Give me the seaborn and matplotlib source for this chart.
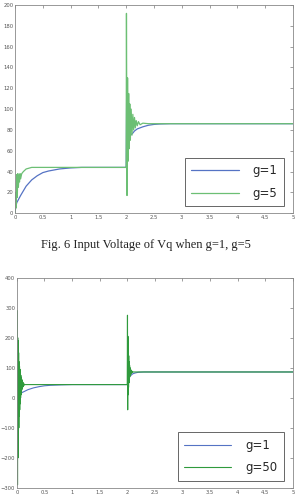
import numpy as np
import pandas as pd
import matplotlib
matplotlib.use("Agg")
import matplotlib.pyplot as plt
import seaborn as sns

# ---- top panel (g=1 vs g=5) ----
top_t_g1 = [0, 0.01, 0.03, 0.05, 0.1, 0.2, 0.3, 0.4, 0.5, 0.6, 0.8, 1.0, 1.2, 1.5, 1.99,
            2.0, 2.01, 2.02, 2.03, 2.04, 2.05, 2.06, 2.07, 2.08, 2.1, 2.12, 2.15, 2.2,
            2.3, 2.4, 2.5, 2.6, 2.8, 3.0, 5.0]
top_v_g1 = [0, 5, 10, 12, 17, 26, 32, 36, 39, 40.5, 42.5, 43.5, 44, 44, 44,
            44, 127, 60, 110, 70, 95, 72, 88, 75, 76, 77, 79, 81,
            83, 84.5, 85.3, 85.7, 86, 86, 86]

top_t_g5 = [0, 0.01, 0.02, 0.03, 0.04, 0.05, 0.06, 0.07, 0.08, 0.09, 0.1, 0.12, 0.15, 0.2,
            0.3, 1.0, 2.0, 2.005, 2.015, 2.025, 2.035, 2.045, 2.055, 2.065, 2.075, 2.09,
            2.105, 2.12, 2.135, 2.15, 2.165, 2.18, 2.2, 2.22, 2.25, 2.3, 2.4, 5.0]
top_v_g5 = [0, 20, 5, 37, 15, 38, 25, 36, 30, 38, 33, 38, 40, 42.5,
            44, 44, 44, 192, 17, 130, 50, 115, 62, 105, 70, 100,
            75, 95, 80, 92, 82, 89, 84, 88, 85, 86.5, 86, 86]

# ---- bottom panel (g=1 vs g=50) ----
bot_t_g1 = [0, 0.005, 0.01, 0.02, 0.05, 0.1, 0.2, 0.3, 0.4, 0.5, 0.6, 0.8, 1.0, 2.0,
            2.02, 2.05, 2.1, 2.15, 2.2, 2.3, 5.0]
bot_v_g1 = [0, -210, 0, 8, 13, 18, 27, 33, 37, 40, 41.5, 43, 44, 44,
            60, 72, 80, 83, 85, 86, 86]

# start-up burst of g=50, sampled evenly over 0..0.14 s
bot_burst1_v = [0, 290, -290, 200, -200, 190, -130, 150, -100, 120, -60, 105, -40, 95,
                -20, 85, 0, 75, 10, 68, 20, 62, 28, 57, 33, 53, 36, 50, 39, 48, 41,
                46, 43, 45, 44]
# step burst of g=50 at t=2, sampled evenly over 2..2.1 s
bot_burst2_v = [44, 275, -40, 205, 10, 170, 35, 140, 50, 120, 62, 108, 70, 100, 75,
                96, 78, 93, 80, 91, 82, 89, 84, 88, 85, 87, 86]

legend_top = ["g=1", "g=5"]
legend_bot = ["g=1", "g=50"]
caption = "Fig. 6 Input Voltage of Vq when g=1, g=5"

blue = "#5573c4"
green_top = "#6cbf74"
green_bot = "#2f9a3c"

t_b1 = np.linspace(0.004, 0.14, len(bot_burst1_v))
t_b2 = np.linspace(2.0, 2.1, len(bot_burst2_v))
bot_t_g50 = list(t_b1) + [1.0, 1.99] + list(t_b2) + [5.0]
bot_v_g50 = bot_burst1_v + [44, 44] + bot_burst2_v + [86]

df_top = pd.concat([
    pd.DataFrame({"t": top_t_g1, "v": top_v_g1, "g": legend_top[0]}),
    pd.DataFrame({"t": top_t_g5, "v": top_v_g5, "g": legend_top[1]}),
])
df_bot = pd.concat([
    pd.DataFrame({"t": bot_t_g1, "v": bot_v_g1, "g": legend_bot[0]}),
    pd.DataFrame({"t": bot_t_g50, "v": bot_v_g50, "g": legend_bot[1]}),
])

sns.set_style("white")
plt.rcParams["font.family"] = ["DejaVu Sans"]

fig = plt.figure(figsize=(3.01, 5.04), dpi=100)
ax1 = fig.add_axes([0.05, 0.577, 0.923, 0.413])
ax2 = fig.add_axes([0.056, 0.032, 0.917, 0.417])

sns.lineplot(data=df_top, x="t", y="v", hue="g", palette=[blue, green_top],
             sort=False, estimator=None, lw=0.9, ax=ax1)
sns.lineplot(data=df_bot, x="t", y="v", hue="g", palette=[blue, green_bot],
             sort=False, estimator=None, lw=0.8, ax=ax2)

for ax, ylim, yticks in [(ax1, (0, 200), np.arange(0, 201, 20)),
                         (ax2, (-300, 400), np.arange(-300, 401, 100))]:
    ax.set_xlim(0, 5)
    ax.set_ylim(*ylim)
    ax.set_xticks(np.arange(0, 5.01, 0.5))
    ax.set_xticklabels(["0", "0.5", "1", "1.5", "2", "2.5", "3", "3.5", "4", "4.5", "5"])
    ax.set_yticks(yticks)
    ax.set_xlabel("")
    ax.set_ylabel("")
    ax.tick_params(direction="in", length=2, width=0.5, top=True, right=True,
                   labelsize=3.8, labelcolor="#555555", color="#777777", pad=1.2)
    for s in ax.spines.values():
        s.set_color("#888888")
        s.set_linewidth(0.6)
    leg = ax.legend(loc="lower right", fontsize=8.5, handlelength=4.0,
                    borderpad=0.55, labelspacing=0.8, handletextpad=1.2,
                    fancybox=False, framealpha=1, edgecolor="#666666",
                    bbox_to_anchor=(0.99, 0.005))
    leg.get_frame().set_linewidth(0.7)

fig.text(0.485, 0.514, caption, ha="center", va="center", fontsize=9,
         family=["Liberation Serif"], color="#222222")

fig.savefig("out.png", dpi=100)
